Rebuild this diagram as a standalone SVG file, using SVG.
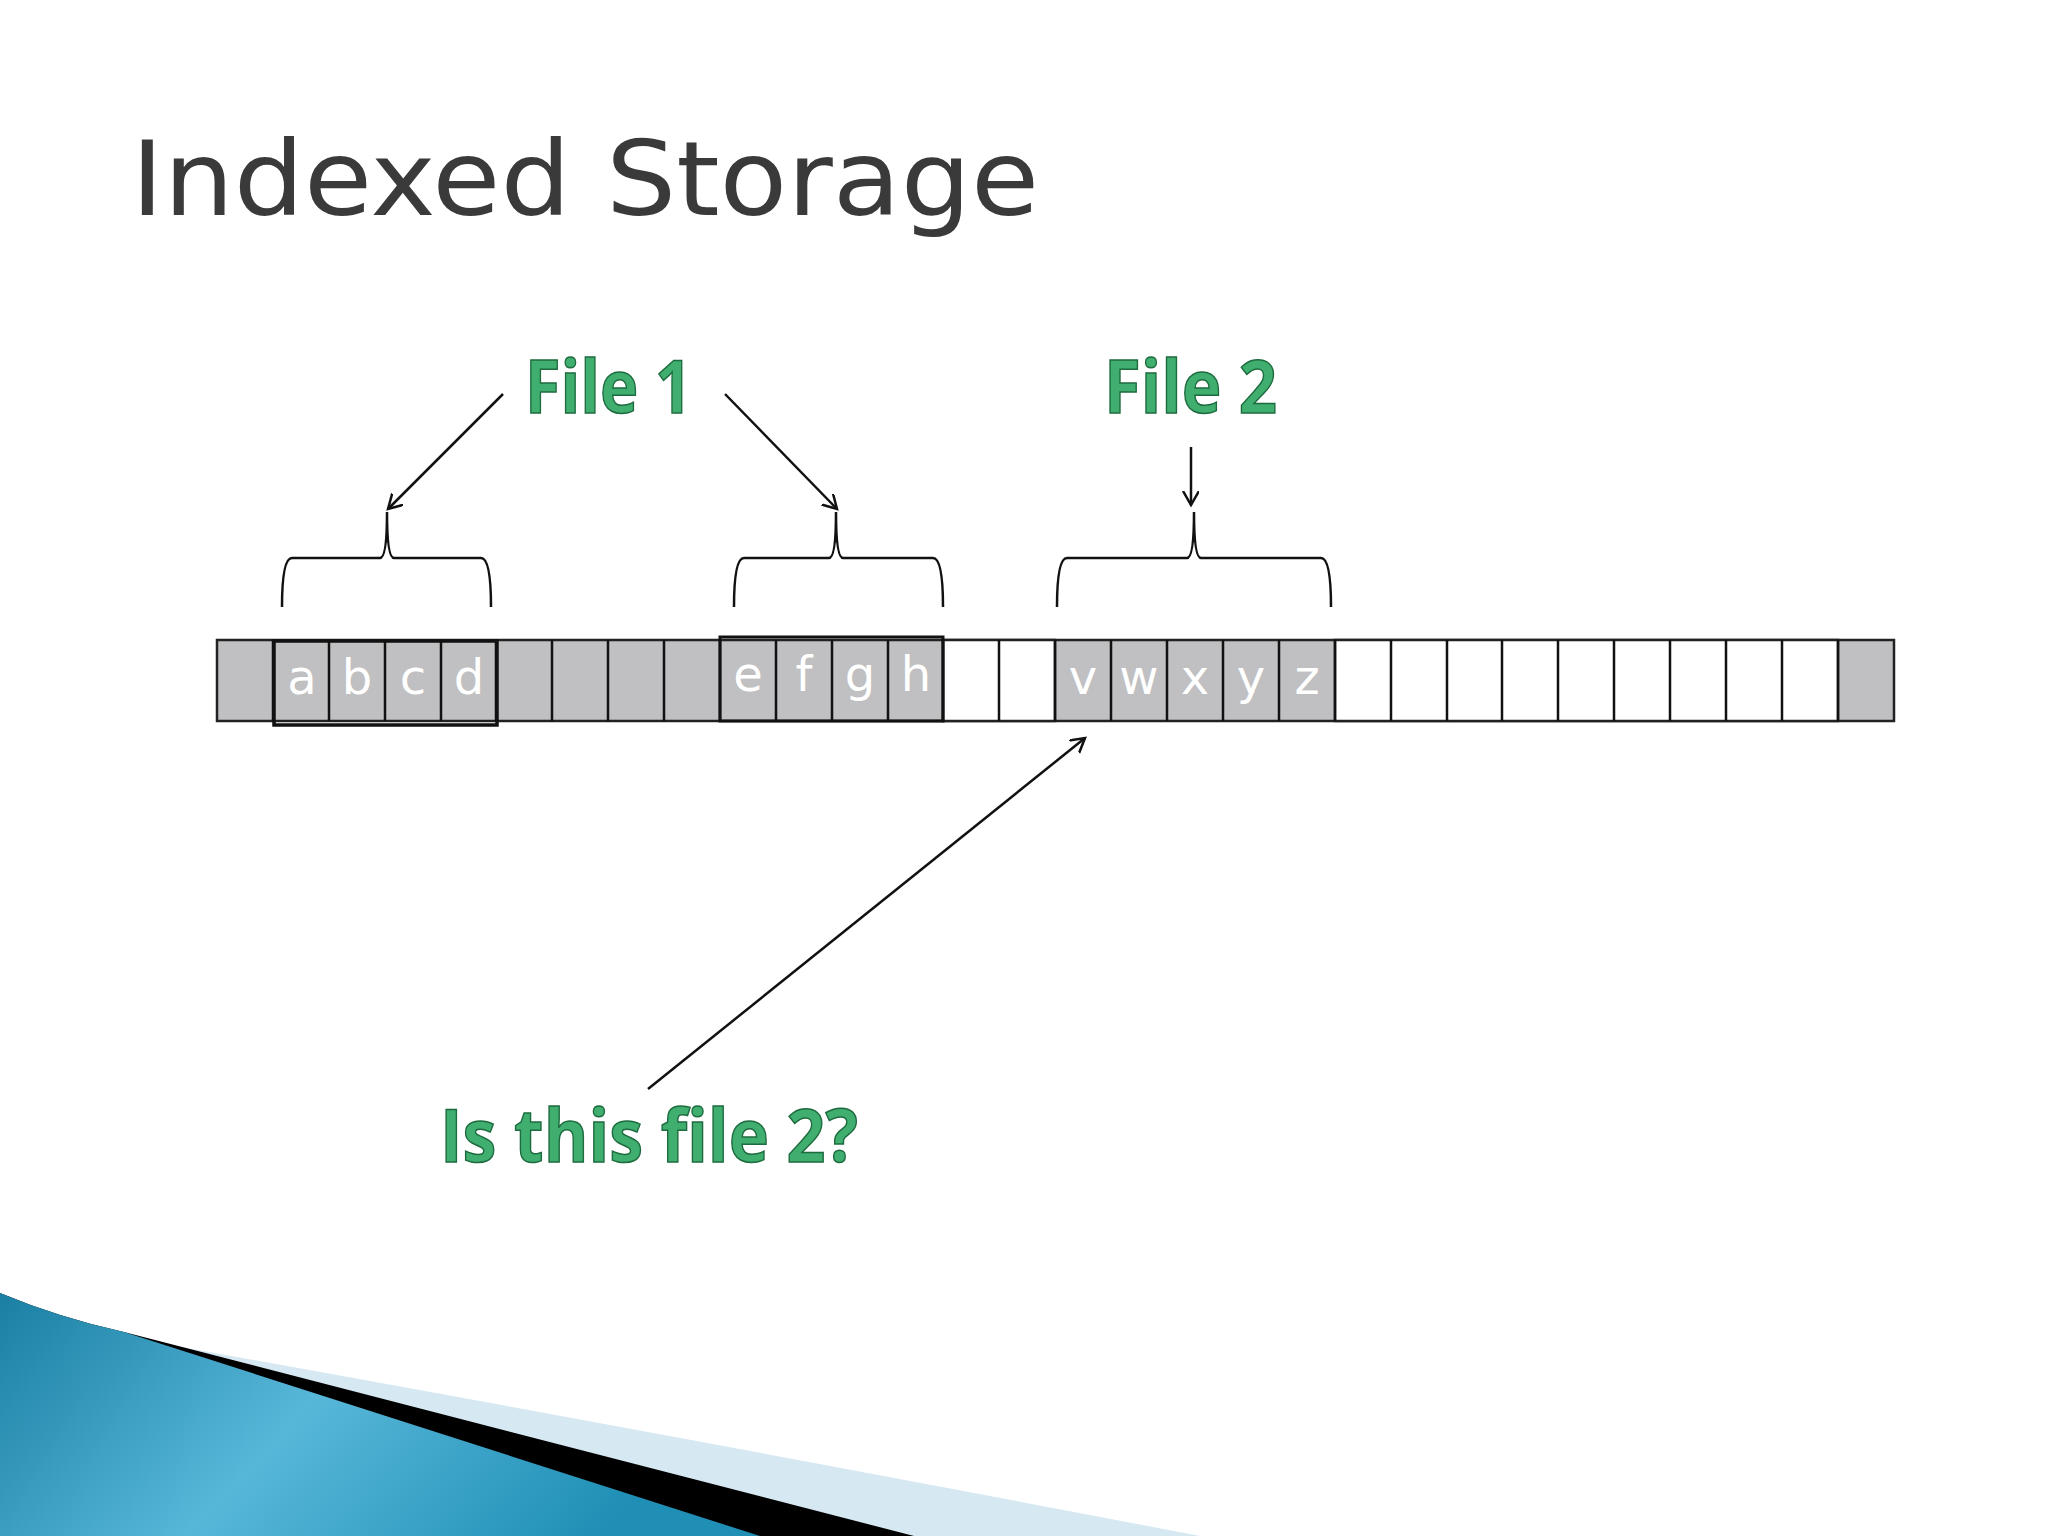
<svg xmlns="http://www.w3.org/2000/svg" width="2048" height="1536" viewBox="0 0 2048 1536">
<defs>
<style>
.cell{stroke:#222;stroke-width:2.5}
.g{fill:#c0bfc1}
.w{fill:#fff}
.lt{font-family:"DejaVu Sans",sans-serif;font-size:48px;fill:#fff;text-anchor:middle}
.lbl{font-family:"Open Sans","Liberation Sans",sans-serif;font-weight:bold;font-size:74px;fill:#3fae6e;stroke:#1d6b3e;stroke-width:1.5}
.ln{stroke:#111;stroke-width:2.5;fill:none}
</style>
<marker id="ah" markerWidth="20" markerHeight="20" refX="14" refY="8" orient="auto" markerUnits="userSpaceOnUse">
<path d="M0,0 L14,8 L0,16" fill="none" stroke="#111" stroke-width="2.5"/>
</marker>
<linearGradient id="blue" x1="0" y1="0" x2="1" y2="0.3">
<stop offset="0" stop-color="#1a7fa3"/><stop offset="0.5" stop-color="#57b7d9"/><stop offset="1" stop-color="#1f8fb5"/>
</linearGradient>
</defs>
<rect width="2048" height="1536" fill="#fff"/>
<g id="swoosh">
<path d="M170,1345 Q700,1440 1200,1536 L900,1536 Z" fill="#d6e8f2"/>
<path d="M0,1293 Q60,1318 124,1332 L914,1536 L0,1536 Z" fill="#000"/>
<path d="M0,1293 Q60,1318 124,1332 L760,1536 L0,1536 Z" fill="url(#blue)"/>
</g>
<g id="title"><text x="131" y="215" font-family="DejaVu Sans,sans-serif" font-size="104" fill="#3a3a3a" textLength="908" lengthAdjust="spacingAndGlyphs">Indexed Storage</text></g>
<g id="labels">
<text class="lbl" x="525" y="413" textLength="167" lengthAdjust="spacingAndGlyphs">File 1</text>
<text class="lbl" x="1104" y="413" textLength="173" lengthAdjust="spacingAndGlyphs">File 2</text>
<text class="lbl" x="440" y="1162" textLength="418" lengthAdjust="spacingAndGlyphs">Is this file 2?</text>
</g>
<g id="strip">
<rect class="cell g" x="217" y="640" width="1677" height="81"/>
<rect class="cell w" x="943" y="640" width="112" height="81"/>
<rect class="cell w" x="1335" y="640" width="503" height="81"/>
<g class="ln" stroke-width="2">
<path d="M273,640v81M329,640v81M385,640v81M441,640v81M496,640v81M552,640v81M608,640v81M664,640v81M720,640v81M776,640v81M832,640v81M888,640v81M943,640v81M999,640v81M1055,640v81M1111,640v81M1167,640v81M1223,640v81M1279,640v81M1335,640v81M1391,640v81M1447,640v81M1502,640v81M1558,640v81M1614,640v81M1670,640v81M1726,640v81M1782,640v81M1838,640v81"/>
</g>
<rect x="274" y="641" width="223" height="84" fill="none" stroke="#111" stroke-width="3.5"/>
<rect x="720" y="637" width="223" height="84" fill="none" stroke="#111" stroke-width="3"/>
<g class="lt">
<text x="302" y="694">a</text><text x="357" y="694">b</text><text x="413" y="694">c</text><text x="469" y="694">d</text>
<text x="748" y="691">e</text><text x="804" y="691">f</text><text x="860" y="691">g</text><text x="916" y="691">h</text>
<text x="1083" y="694">v</text><text x="1139" y="694">w</text><text x="1195" y="694">x</text><text x="1251" y="694">y</text><text x="1307" y="694">z</text>
</g>
</g>
<g id="braces" class="ln">
<path d="M282,607 Q282,558 292,558 L380,558 Q387,558 387,512 Q387,558 394,558 L481,558 Q491,558 491,607"/>
<path d="M734,607 Q734,558 744,558 L829,558 Q836,558 836,512 Q836,558 843,558 L933,558 Q943,558 943,607"/>
<path d="M1057,607 Q1057,558 1067,558 L1187,558 Q1194,558 1194,512 Q1194,558 1201,558 L1321,558 Q1331,558 1331,607"/>
</g>
<g id="connectors" class="ln">
<line x1="503" y1="394" x2="388" y2="509" marker-end="url(#ah)"/>
<line x1="725" y1="394" x2="837" y2="509" marker-end="url(#ah)"/>
<line x1="1191" y1="447" x2="1191" y2="505" marker-end="url(#ah)"/>
<line x1="648" y1="1089" x2="1085" y2="738" marker-end="url(#ah)"/>
</g>
</svg>
